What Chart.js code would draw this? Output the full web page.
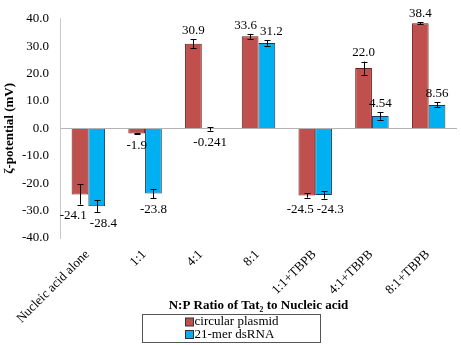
<!DOCTYPE html>
<html>
<head>
<meta charset="utf-8">
<script src="https://cdn.jsdelivr.net/npm/chart.js@4.4.1/dist/chart.umd.min.js"></script>
<style>
html,body{margin:0;padding:0;background:#fff;}
#wrap{width:461px;height:345px;}
</style>
</head>
<body>
<div id="wrap"><canvas id="c" width="461" height="345"></canvas></div>
<script>
const categories = ['Nucleic acid alone', '1:1', '4:1', '8:1', '1:1+TBPB', '4:1+TBPB', '8:1+TBPB'];
const plasmidValues = [-24.1, -1.9, 30.9, 33.6, -24.5, 22.0, 38.4];
const plasmidErrors = [3.7, 0.3, 1.6, 0.9, 0.8, 2.4, 0.3];
const plasmidLabels = ['-24.1', '-1.9', '30.9', '33.6', '-24.5', '22.0', '38.4'];
const rnaValues = [-28.4, -23.8, -0.241, 31.2, -24.3, 4.54, 8.56];
const rnaErrors = [2.2, 1.7, 0.6, 1.0, 1.3, 1.4, 0.9];
const rnaLabels = ['-28.4', '-23.8', '-0.241', '31.2', '-24.3', '4.54', '8.56'];
const yTicks = [-40, -30, -20, -10, 0, 10, 20, 30, 40];
const seriesNames = ['circular plasmid', '21-mer dsRNA'];
const xTitle = 'N:P Ratio of Tat\u2082 to Nucleic acid';
const yTitle = '\u03B6-potential (mV)';

const SERIF = '"Liberation Serif", "Times New Roman", "DejaVu Serif", serif';
const RED = '#C0504D', RED_B = '#6b1d1b';
const BLUE = '#00B0F0', BLUE_B = '#1b3a5c';

const errorBarPlugin = {
  id: 'errbars',
  afterDatasetsDraw(chart) {
    const ctx = chart.ctx;
    const y = chart.scales.y;
    const errs = [plasmidErrors, rnaErrors];
    const labels = [plasmidLabels, rnaLabels];
    ctx.save();
    ctx.strokeStyle = '#000';
    ctx.lineWidth = 1;
    chart.data.datasets.forEach((ds, di) => {
      const meta = chart.getDatasetMeta(di);
      meta.data.forEach((bar, i) => {
        const v = ds.data[i], e = errs[di][i];
        const x = Math.round(bar.x) + 0.5;
        const y1 = y.getPixelForValue(v + e), y2 = y.getPixelForValue(v - e);
        ctx.beginPath();
        ctx.moveTo(x, y1); ctx.lineTo(x, y2);
        ctx.moveTo(x - 3, Math.round(y1) + 0.5); ctx.lineTo(x + 3, Math.round(y1) + 0.5);
        ctx.moveTo(x - 3, Math.round(y2) + 0.5); ctx.lineTo(x + 3, Math.round(y2) + 0.5);
        ctx.stroke();
      });
    });
    ctx.font = '13px ' + SERIF;
    ctx.fillStyle = '#000';
    ctx.textAlign = 'center';
    ctx.textBaseline = 'middle';
    const H = 13;
    for (let i = 0; i < categories.length; i++) {
      const boxes = chart.data.datasets.map((ds, di) => {
        const bar = chart.getDatasetMeta(di).data[i];
        const v = ds.data[i], e = errs[di][i];
        const t = labels[di][i];
        const w = ctx.measureText(t).width;
        let cy;
        if (v >= 0) cy = y.getPixelForValue(v + e) - 2 - H / 2;
        else cy = y.getPixelForValue(v - e) + 5 + H / 2;
        return {t, w, cx: bar.x, cy};
      });
      const a = boxes[0], b = boxes[1];
      if (Math.abs(a.cy - b.cy) < H) {
        const need = (a.w + b.w) / 2 + 3 - (b.cx - a.cx);
        if (need > 0) { a.cx -= need / 2; b.cx += need / 2; }
      }
      boxes.forEach(bx => ctx.fillText(bx.t, bx.cx, bx.cy));
    }
    ctx.restore();
  },
  afterDraw(chart) {
    const ctx = chart.ctx;
    ctx.save();
    const bw = 178, bh = 28;
    const left = Math.round((chart.width - bw) / 2) + 0.5;
    const top = 314.5;
    ctx.fillStyle = '#fff';
    ctx.fillRect(left, top, bw, bh);
    ctx.strokeStyle = '#555';
    ctx.lineWidth = 1;
    ctx.strokeRect(left, top, bw, bh);
    ctx.font = '13px ' + SERIF;
    ctx.textAlign = 'left';
    ctx.textBaseline = 'middle';
    const fills = [RED, BLUE];
    seriesNames.forEach((n, k) => {
      const cy = top + 7.5 + k * 12.5;
      ctx.fillStyle = fills[k];
      ctx.fillRect(left + 43, cy - 4, 8, 8);
      ctx.strokeStyle = '#333';
      ctx.strokeRect(left + 43, cy - 4, 8, 8);
      ctx.fillStyle = '#000';
      ctx.fillText(n, left + 52, cy);
    });
    ctx.restore();
  }
};

new Chart(document.getElementById('c'), {
  type: 'bar',
  data: {
    labels: categories,
    datasets: [
      {label: seriesNames[0], data: plasmidValues, backgroundColor: RED, borderColor: RED_B, borderWidth: 1},
      {label: seriesNames[1], data: rnaValues, backgroundColor: BLUE, borderColor: BLUE_B, borderWidth: 1}
    ]
  },
  options: {
    responsive: false,
    animation: false,
    devicePixelRatio: 1,
    layout: {padding: {top: 6, right: 4, bottom: 10, left: 0}},
    categoryPercentage: 0.59,
    barPercentage: 1.0,
    plugins: {legend: {display: false}, tooltip: {enabled: false}},
    scales: {
      x: {
        grid: {display: false, drawTicks: false},
        border: {display: false},
        ticks: {
          color: '#000', font: {family: SERIF, size: 13},
          maxRotation: 45, minRotation: 45, padding: 9, labelOffset: -1, autoSkip: false
        },
        title: {display: true, text: xTitle, color: '#000', font: {family: SERIF, size: 13, weight: 'bold'}, padding: {top: 0, bottom: 22}},
        afterFit(s) { s.height = 345 - 10 - 238; }
      },
      y: {
        min: -40, max: 40,
        afterBuildTicks(s) { s.ticks = yTicks.map(v => ({value: v})); },
        grid: {
          drawTicks: false,
          color: c => (c.tick && c.tick.value === 0) ? '#b3b3b3' : 'rgba(0,0,0,0)',
          lineWidth: 1
        },
        border: {display: true, color: '#c8c8c8', width: 1},
        ticks: {color: '#000', font: {family: SERIF, size: 13}, padding: 11, callback: v => Number(v).toFixed(1)},
        title: {display: true, text: yTitle, color: '#000', font: {family: SERIF, size: 13, weight: 'bold'}, padding: {top: 2, bottom: 0}},
        afterFit(s) { s.width = 60; }
      }
    }
  },
  plugins: [errorBarPlugin]
});
</script>
</body>
</html>
